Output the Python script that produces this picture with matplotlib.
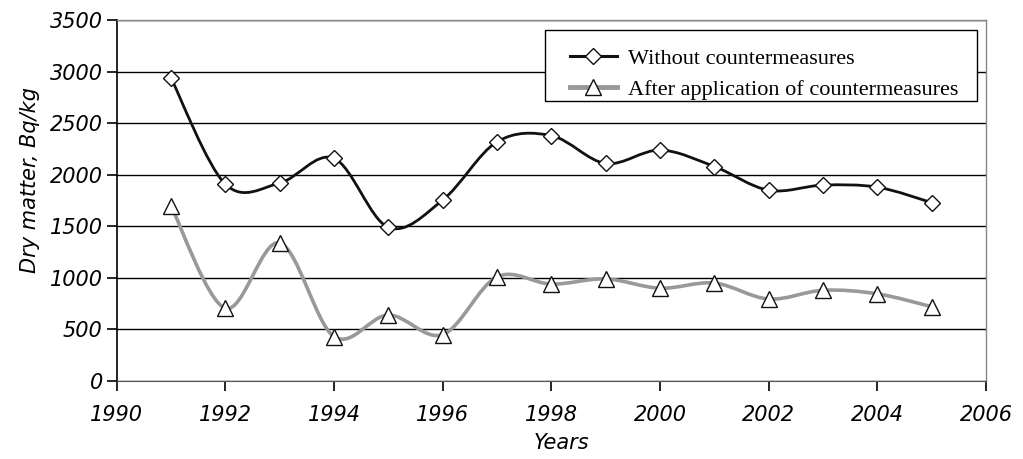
import numpy as np
import matplotlib
matplotlib.use("Agg")
import matplotlib.pyplot as plt
from matplotlib.path import Path
from matplotlib.patches import PathPatch, Rectangle

# Data
years = [1991, 1992, 1993, 1994, 1995, 1996, 1997, 1998, 1999, 2000, 2001, 2002, 2003, 2004, 2005]
without_cm = [2940, 1910, 1920, 2160, 1490, 1755, 2320, 2380, 2110, 2240, 2080, 1850, 1900, 1880, 1730]
after_cm = [1700, 705, 1340, 430, 640, 450, 1010, 940, 990, 900, 950, 795, 880, 845, 720]

# axis texts are oblique sans everywhere
plt.rcParams['font.family'] = 'DejaVu Sans'
plt.rcParams['font.style'] = 'oblique'
plt.rcParams['font.size'] = 15


def smooth_path(x, y):
    # Excel-style smoothed line: cubic Bezier segments through the points
    x = np.asarray(x, float)
    y = np.asarray(y, float)
    n = len(x)
    verts = [(x[0], y[0])]
    codes = [Path.MOVETO]
    for i in range(n - 1):
        x0, y0 = (x[i - 1], y[i - 1]) if i > 0 else (x[i], y[i])
        x3, y3 = (x[i + 2], y[i + 2]) if i + 2 < n else (x[i + 1], y[i + 1])
        c1 = (x[i] + (x[i + 1] - x0) / 6, y[i] + (y[i + 1] - y0) / 6)
        c2 = (x[i + 1] - (x3 - x[i]) / 6, y[i + 1] - (y3 - y[i]) / 6)
        verts += [c1, c2, (x[i + 1], y[i + 1])]
        codes += [Path.CURVE4] * 3
    return Path(verts, codes)


fig = plt.figure(figsize=(10.23, 4.59), dpi=100)
ax = fig.add_axes([0.114, 0.170, 0.850, 0.786])

# smoothed lines
ax.add_patch(PathPatch(smooth_path(years, without_cm), fill=False, edgecolor='#111111', lw=2.0, zorder=3))
ax.add_patch(PathPatch(smooth_path(years, after_cm), fill=False, edgecolor='#999999', lw=2.6, zorder=3))

# markers
ax.plot(years, without_cm, linestyle='none', marker='D', markersize=8, markerfacecolor='white',
        markeredgecolor='#111111', markeredgewidth=1.0, zorder=4)
ax.plot(years, after_cm, linestyle='none', marker='^', markersize=12, markerfacecolor='white',
        markeredgecolor='#111111', markeredgewidth=1.0, zorder=4)

# legend: frame drawn separately so the box size matches
ax.add_patch(Rectangle((0.4928, 0.7756), 0.4968, 0.1964, transform=ax.transAxes,
                       facecolor='white', edgecolor='black', lw=1.0, zorder=5))
h1, = ax.plot([], [], color='#111111', lw=2.2, marker='D', markersize=8, markerfacecolor='white',
              markeredgecolor='#111111', markeredgewidth=1.0)
h2, = ax.plot([], [], color='#999999', lw=3.5, marker='^', markersize=11, markerfacecolor='white',
              markeredgecolor='#111111', markeredgewidth=1.0)
leg = ax.legend([h1, h2], ['Without countermeasures', 'After application of countermeasures'],
                loc='upper left', bbox_to_anchor=(0.5215, 0.921), borderaxespad=0, borderpad=0,
                frameon=False, handlelength=2.1, handletextpad=0.5, labelspacing=0.45,
                prop=dict(family='Liberation Serif', style='normal', size=16))
leg.set_zorder(6)

ax.set_xlim(1990, 2006)
ax.set_ylim(0, 3500)
ax.set_xticks(range(1990, 2007, 2))
ax.set_yticks(range(0, 3501, 500))

ax.yaxis.grid(True, color='black', lw=1.0)
ax.set_axisbelow(True)
ax.tick_params(axis='both', direction='out', length=7, width=1.2, color='black', labelsize=15)
ax.tick_params(axis='x', pad=10)
ax.tick_params(axis='y', pad=3)

for s in ['top', 'right']:
    ax.spines[s].set_color('#888888')
    ax.spines[s].set_linewidth(1.0)
ax.spines['bottom'].set_color('#555555')
ax.spines['left'].set_color('black')
ax.spines['left'].set_linewidth(1.2)

ax.set_xlabel('Years')
ax.set_ylabel('Dry matter, Bq/kg')
ax.xaxis.set_label_coords(0.512, -0.145)
ax.yaxis.set_label_coords(-0.088, 0.557)

fig.savefig('out.png', dpi=100)
